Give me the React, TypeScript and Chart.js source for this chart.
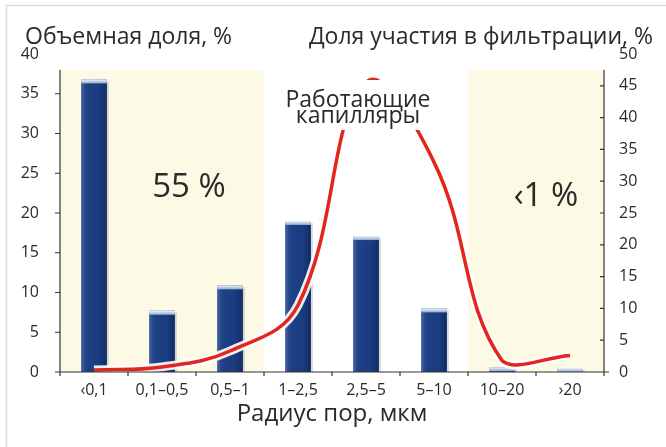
import { useEffect, useRef } from 'react';
import { Chart, registerables } from 'chart.js';

Chart.register(...registerables);

const FONT = '"Open Sans", "Noto Sans", sans-serif';
const INK = '#2a2a2a';

// Pore radius classes, µm
const poreRadius = ['‹0,1', '0,1–0,5', '0,5–1', '1–2,5', '2,5–5', '5–10', '10–20', '›20'];
// Volume share of each pore class, % (left axis)
const volumeShare = [36.8, 7.7, 10.9, 19.0, 17.1, 8.0, 0.6, 0.5];
// Share of each class in filtration, % (right axis)
const filtrationShare = [0.3, 0.8, 3.3, 10.5, 45.5, 33.0, 1.8, 2.6];

const leftAxisTitle = 'Объемная доля, %';
const rightAxisTitle = 'Доля участия в фильтрации, %';
const xAxisTitle = 'Радиус пор, мкм';
const peakLabel = ['Работающие', 'капилляры'];

// Shaded pore-class zones: first and last category index, and their caption
const zoneFrom = [0, 6];
const zoneTo = [2, 7];
const zoneText = ['55 %', '‹1 %'];

const decor = {
  id: 'decor',
  beforeDraw(chart: any) {
    const { ctx, width, height } = chart;
    ctx.save();
    ctx.fillStyle = '#ffffff';
    ctx.fillRect(0, 0, width, height);
    ctx.strokeStyle = '#dcdcdc';
    ctx.lineWidth = 1.5;
    ctx.beginPath();
    ctx.moveTo(6.5, height);
    ctx.lineTo(6.5, 5.5);
    ctx.lineTo(width, 5.5);
    ctx.stroke();
    ctx.restore();
  },
  beforeDatasetsDraw(chart: any) {
    const { ctx, scales } = chart;
    const x = scales.x;
    const y = scales.y;
    const top = y.getPixelForValue(38);
    const bottom = y.getPixelForValue(0);
    const half = (x.getPixelForValue(1) - x.getPixelForValue(0)) / 2;
    ctx.save();
    ctx.fillStyle = '#fcfae4';
    zoneFrom.forEach((from, i) => {
      const l = x.getPixelForValue(from) - half;
      const r = x.getPixelForValue(zoneTo[i]) + half;
      ctx.fillRect(l, top, r - l, bottom - top);
    });
    ctx.restore();
  },
  afterDatasetDraw(chart: any, args: any) {
    if (args.meta.type !== 'bar') return;
    const { ctx } = chart;
    ctx.save();
    args.meta.data.forEach((bar: any) => {
      const { x, y, base, width } = bar.getProps(['x', 'y', 'base', 'width'], true);
      const l = x - width / 2;
      const h = base - y;
      // side shading for a rounded, glossy look
      const g = ctx.createLinearGradient(l, 0, l + width, 0);
      g.addColorStop(0, 'rgba(120,150,200,0.55)');
      g.addColorStop(0.2, 'rgba(60,95,160,0.15)');
      g.addColorStop(0.6, 'rgba(20,50,110,0)');
      g.addColorStop(1, 'rgba(5,20,60,0.45)');
      ctx.fillStyle = g;
      ctx.fillRect(l, y, width, h);
      // light cap on top
      const capH = Math.min(4, h);
      const c = ctx.createLinearGradient(0, y, 0, y + capH);
      c.addColorStop(0, '#f4f7fb');
      c.addColorStop(1, '#8fa6cc');
      ctx.fillStyle = c;
      ctx.fillRect(l, y, width, capH);
      // soft shadow along the right edge
      ctx.fillStyle = 'rgba(170,170,170,0.45)';
      ctx.fillRect(l + width, y + 2, 2, h - 2);
    });
    ctx.restore();
  },
  afterDatasetsDraw(chart: any) {
    const { ctx, scales } = chart;
    const x = scales.x;
    const y = scales.y;
    const y2 = scales.y2;
    const top = y.getPixelForValue(38);
    const bottom = y.getPixelForValue(0);
    const left = x.left;
    const right = x.right;
    const half = (x.getPixelForValue(1) - x.getPixelForValue(0)) / 2;

    ctx.save();
    ctx.strokeStyle = '#333333';
    ctx.lineWidth = 1.2;
    ctx.beginPath();
    ctx.moveTo(left, top);
    ctx.lineTo(left, bottom);
    ctx.moveTo(left - 5, bottom);
    ctx.lineTo(right + 5, bottom);
    ctx.moveTo(right, top);
    ctx.lineTo(right, bottom);
    for (let v = 5; v < 40; v += 5) {
      const py = y.getPixelForValue(v);
      ctx.moveTo(left - 5, py);
      ctx.lineTo(left, py);
    }
    for (let v = 5; v < 50; v += 5) {
      const py = y2.getPixelForValue(v);
      ctx.moveTo(right - 4, py);
      ctx.lineTo(right, py);
    }
    for (let i = 0; i <= poreRadius.length; i++) {
      const px = x.getPixelForValue(0) - half + i * 2 * half;
      ctx.moveTo(px, bottom);
      ctx.lineTo(px, bottom + 4);
    }
    ctx.stroke();

    // caption over the filtration peak
    const cx = (x.getPixelForValue(3) + x.getPixelForValue(5)) / 2 - 8;
    ctx.fillStyle = '#ffffff';
    ctx.fillRect(cx - 75, 80, 152, 50);
    ctx.fillStyle = INK;
    ctx.textAlign = 'center';
    ctx.textBaseline = 'alphabetic';
    ctx.font = `23px ${FONT}`;
    ctx.fillText(peakLabel[0], cx, 107);
    ctx.fillText(peakLabel[1], cx, 123);

    // zone captions
    ctx.font = `33px ${FONT}`;
    ctx.textBaseline = 'middle';
    zoneFrom.forEach((from, i) => {
      const zx = (x.getPixelForValue(from) + x.getPixelForValue(zoneTo[i])) / 2;
      ctx.fillText(zoneText[i], zx + (i === 0 ? 27 : 10), i === 0 ? 188 : 197);
    });

    // axis titles
    ctx.font = `23px ${FONT}`;
    ctx.textBaseline = 'alphabetic';
    ctx.textAlign = 'left';
    ctx.fillText(leftAxisTitle, 25, 44);
    ctx.textAlign = 'right';
    ctx.fillText(rightAxisTitle, 653, 44);
    ctx.textAlign = 'center';
    ctx.font = `24px ${FONT}`;
    ctx.fillText(xAxisTitle, (left + right) / 2, 421);
    ctx.restore();
  },
};

export default function App() {
  const canvasRef = useRef<HTMLCanvasElement>(null);

  useEffect(() => {
    if (!canvasRef.current) return;
    const tickFont = { family: FONT, size: 16 };
    const chart = new Chart(canvasRef.current, {
      type: 'bar',
      data: {
        labels: poreRadius,
        datasets: [
          {
            type: 'line',
            label: 'Доля участия в фильтрации',
            data: filtrationShare,
            yAxisID: 'y2',
            borderColor: '#e3261c',
            borderWidth: 3.5,
            pointRadius: 0,
            tension: 0.4,
            order: 0,
          },
          {
            type: 'line',
            label: 'halo',
            data: filtrationShare,
            yAxisID: 'y2',
            borderColor: 'rgba(255,255,255,0.9)',
            borderWidth: 9,
            pointRadius: 0,
            tension: 0.4,
            order: 1,
          },
          {
            type: 'bar',
            label: 'Объемная доля',
            data: volumeShare,
            yAxisID: 'y',
            backgroundColor: '#1b3d82',
            categoryPercentage: 1,
            barPercentage: 0.38,
            order: 2,
          },
        ],
      },
      options: {
        responsive: false,
        devicePixelRatio: 1,
        animation: false,
        layout: { padding: { top: 54, left: 0, right: 0, bottom: 0 } },
        plugins: { legend: { display: false }, tooltip: { enabled: false } },
        scales: {
          x: {
            offset: true,
            grid: { display: false },
            border: { display: false },
            ticks: {
              color: INK,
              font: tickFont,
              padding: 1,
              maxRotation: 0,
              autoSkip: false,
            },
            afterFit: (s: any) => {
              s.height = 75;
            },
          },
          y: {
            position: 'left',
            min: 0,
            max: 40,
            grid: { display: false },
            border: { display: false },
            ticks: { stepSize: 5, color: INK, font: tickFont, padding: 13 },
            afterFit: (s: any) => {
              s.width = 60;
            },
          },
          y2: {
            position: 'right',
            min: 0,
            max: 50,
            grid: { display: false },
            border: { display: false },
            ticks: { stepSize: 5, color: INK, font: tickFont, padding: 7 },
            afterFit: (s: any) => {
              s.width = 62;
            },
          },
        },
      },
      plugins: [decor],
    });
    return () => chart.destroy();
  }, []);

  return (
    <div style={{ position: 'fixed', left: 0, top: 0, width: 666, height: 447, background: '#fff' }}>
      <canvas ref={canvasRef} width={666} height={447} />
    </div>
  );
}
